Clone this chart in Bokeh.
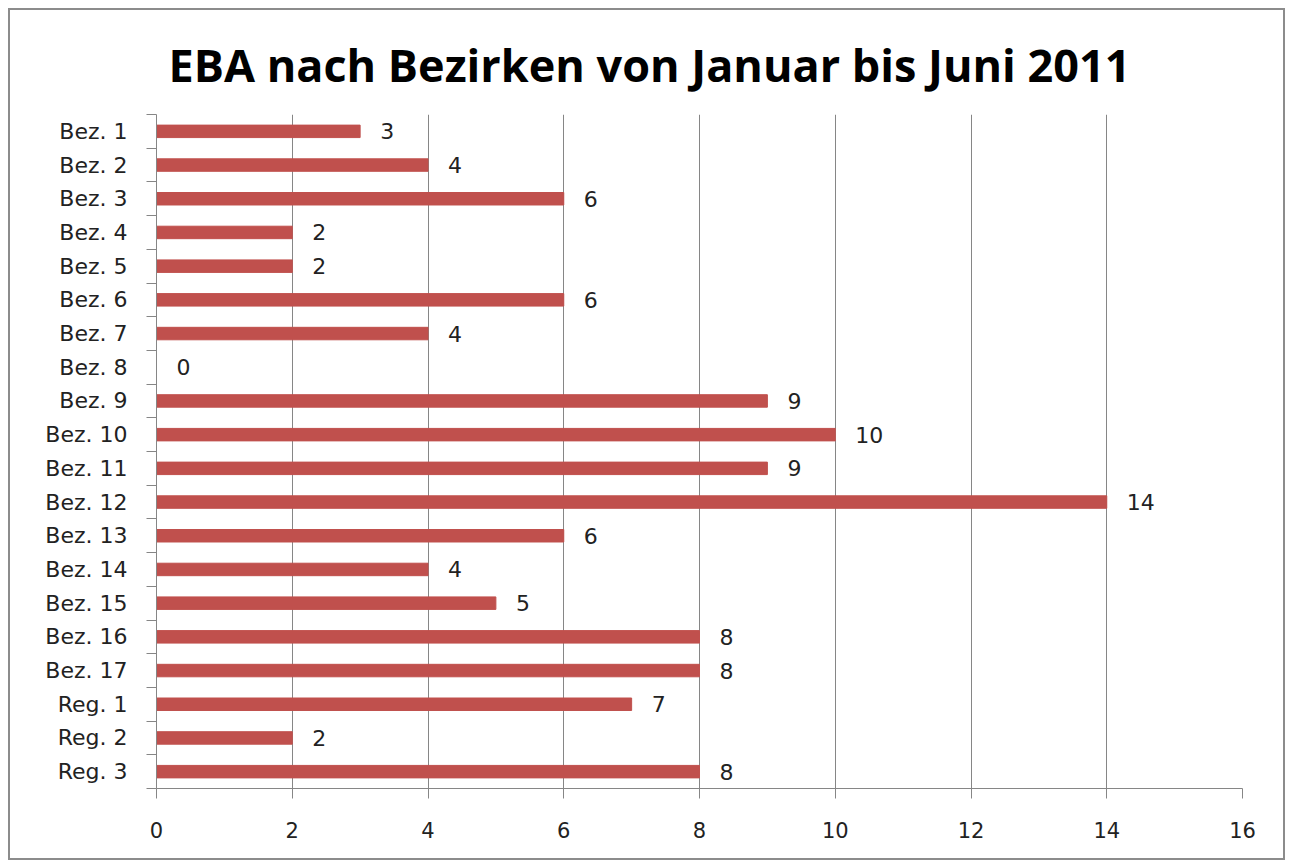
from bokeh.plotting import figure
from bokeh.models import Range1d, FixedTicker, ColumnDataSource
from bokeh.core.properties import value
from bokeh.embed import file_html
from bokeh.resources import INLINE

categories = ["Bez. 1", "Bez. 2", "Bez. 3", "Bez. 4", "Bez. 5", "Bez. 6", "Bez. 7",
              "Bez. 8", "Bez. 9", "Bez. 10", "Bez. 11", "Bez. 12", "Bez. 13", "Bez. 14",
              "Bez. 15", "Bez. 16", "Bez. 17", "Reg. 1", "Reg. 2", "Reg. 3"]
values = [3, 4, 6, 2, 2, 6, 4, 0, 9, 10, 9, 14, 6, 4, 5, 8, 8, 7, 2, 8]
x_ticks = [0, 2, 4, 6, 8, 10, 12, 14, 16]
title_text = "EBA nach Bezirken von Januar bis Juni 2011"

n = len(categories)
ypos = [n - i - 0.5 for i in range(n)]
src = ColumnDataSource(dict(y=ypos, v=values, cat=categories, lab=[str(v) for v in values]))

GRAY = "#868686"
BAR = "#C0504D"

p = figure(width=1277, height=852, output_backend="svg", toolbar_location=None,
           x_range=Range1d(0, 16), y_range=Range1d(0, n),
           min_border_left=146, min_border_right=45, min_border_top=104, min_border_bottom=74,
           title=title_text)
p.styles = {"border": "2px solid #8c8c8c", "margin": "8px 0 0 8px"}
p.outline_line_color = None

p.title.text_font = "Open Sans"
p.title.text_font_style = "bold"
p.title.text_font_size = "45px"
p.title.align = "left"
p.title.text_color = "#000000"
p.title.standoff = 40
p.title.offset = 12

p.hbar(y="y", left=0, right="v", height=0.37, source=src, color=BAR)
p.text(x="v", y="y", text="lab", source=src, x_offset=20, text_baseline="middle",
       text_align="left", text_font=value("DejaVu Sans"), text_font_size="22px",
       text_color="#222222")

# x axis
xa = p.xaxis[0]
xa.ticker = FixedTicker(ticks=x_ticks, minor_ticks=[])
xa.axis_line_color = GRAY
xa.major_tick_line_color = GRAY
xa.major_tick_out = 10
xa.major_tick_in = 0
xa.minor_tick_line_color = None
xa.major_label_text_font = "DejaVu Sans"
xa.major_label_text_font_size = "21px"
xa.major_label_text_color = "#222222"
xa.major_label_standoff = 23

# y axis: labels at centers, tick marks between categories
ya = p.yaxis[0]
ya.ticker = FixedTicker(ticks=ypos, minor_ticks=list(range(0, n + 1)))
ya.major_label_overrides = {y: c for y, c in zip(ypos, categories)}
ya.axis_line_color = GRAY
ya.major_tick_line_color = None
ya.major_tick_out = 0
ya.major_tick_in = 0
ya.minor_tick_line_color = GRAY
ya.minor_tick_out = 10
ya.minor_tick_in = 0
ya.major_label_text_font = "DejaVu Sans"
ya.major_label_text_font_size = "22px"
ya.major_label_text_color = "#222222"
ya.major_label_standoff = 19

p.ygrid.grid_line_color = None
p.xgrid.grid_line_color = GRAY
p.xgrid.grid_line_width = 1
p.xgrid.ticker = FixedTicker(ticks=x_ticks[1:])

open("out.html", "w").write(file_html(p, INLINE))
